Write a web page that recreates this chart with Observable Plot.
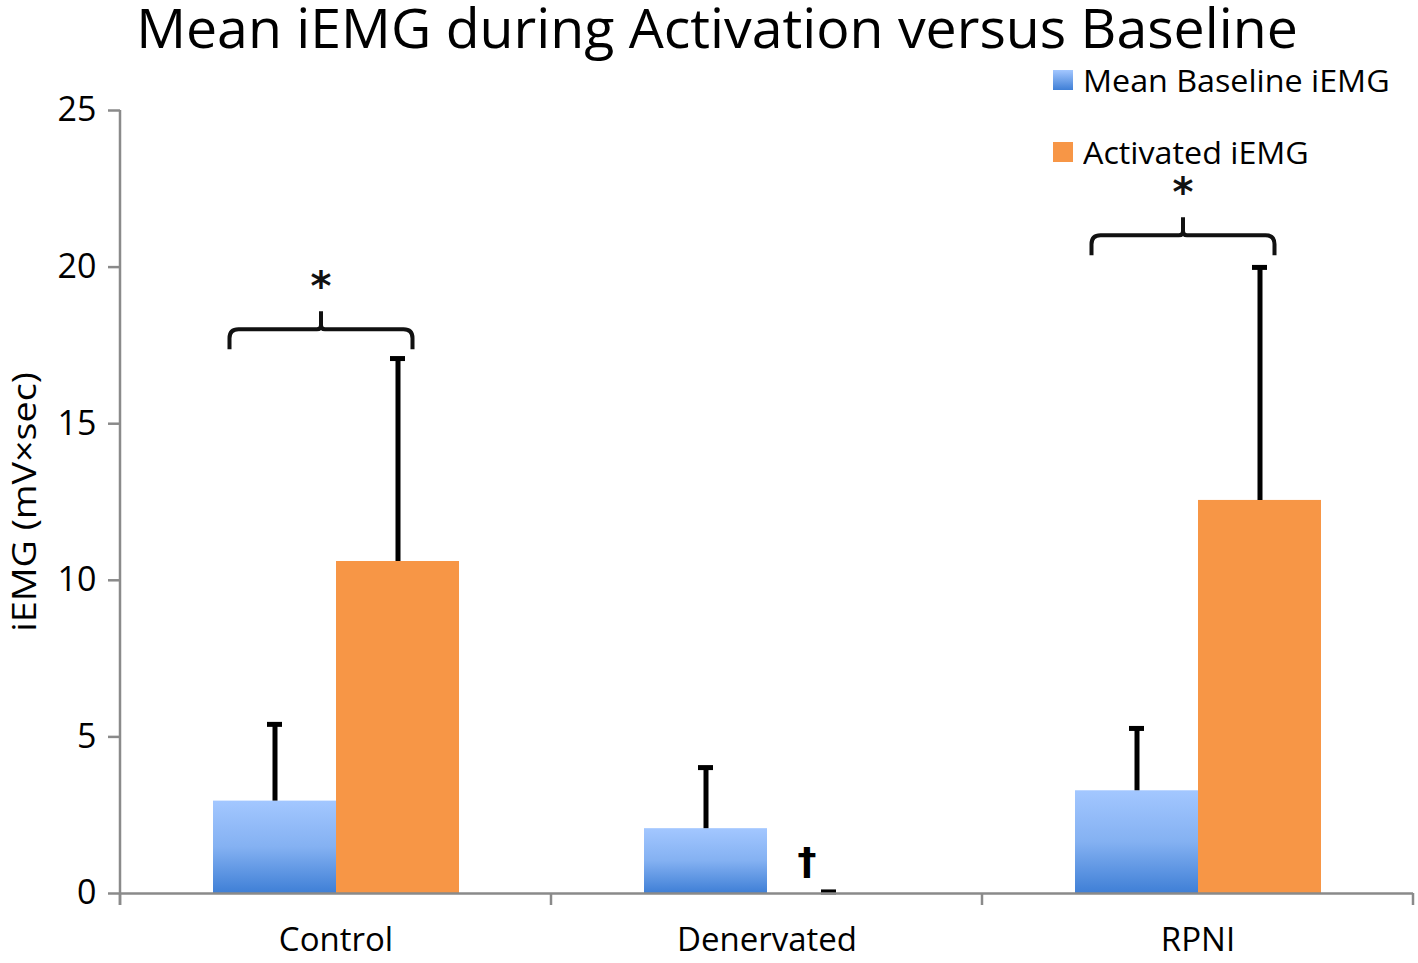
<!DOCTYPE html>
<html>
<head>
<meta charset="utf-8">
<script src="https://cdn.jsdelivr.net/npm/d3@7"></script>
<script src="https://cdn.jsdelivr.net/npm/@observablehq/plot@0.6"></script>
<style>
  html, body { margin: 0; padding: 0; background: #fff; }
  #wrap { position: relative; width: 1418px; height: 963px; overflow: hidden; font-family: "Open Sans", sans-serif; color: #000; }
  #title { position: absolute; top: 2px; left: 8px; width: 1418px; text-align: center; white-space: nowrap; }
  #title span { display: inline-block; font-size: 52px; line-height: 50px; }
  #legend { position: absolute; left: 1053px; top: 58px; }
  .item { position: relative; height: 72px; white-space: nowrap; }
  .sw { position: absolute; left: 0; top: 12px; width: 20px; height: 20px; }
  .lab { position: absolute; left: 30px; top: 0px; font-size: 31px; line-height: 44px; transform-origin: 0 50%; }
  #ylabel { position: absolute; left: 23px; top: 502px; transform: translate(-50%, -50%) rotate(-90deg); white-space: nowrap; font-size: 32px; line-height: normal; }
  #chart { position: absolute; left: 0; top: 0; }
</style>
</head>
<body>
<svg width="0" height="0" style="position:absolute">
  <defs>
    <linearGradient id="blueGrad" x1="0" y1="0" x2="0" y2="1">
      <stop offset="0" stop-color="#a3c7ff"/>
      <stop offset="0.5" stop-color="#84b1f2"/>
      <stop offset="1" stop-color="#3f7fd6"/>
    </linearGradient>
  </defs>
</svg>
<div id="wrap">
  <div id="chart"></div>
  <div id="title"><span id="titleText">Mean iEMG during Activation versus Baseline</span></div>
  <div id="legend"></div>
  <div id="ylabel"><span id="ylabelText" style="display:inline-block">iEMG (mV×sec)</span></div>
</div>
<script>
// ---- data ----
const groups = ["Control", "Denervated", "RPNI"];
const series = ["Mean Baseline iEMG", "Activated iEMG"];
const baselineMean = [2.95, 2.07, 3.28];
const baselineErr = [2.45, 1.95, 1.99];
const activatedMean = [10.6, 0, 12.55];
const activatedErr = [6.48, 0.05, 7.44];
const yTicks = [0, 5, 10, 15, 20, 25];
const sigGroups = ["Control", "RPNI"];
const sigBraceY = [18, 21];
const daggerGroups = ["Denervated"];
const daggerY = [1.0];
const seriesFill = ["url(#blueGrad)", "#F79646"];

const rows = groups.flatMap((g, i) => [
  {group: g, series: series[0], value: baselineMean[i], err: baselineErr[i]},
  {group: g, series: series[1], value: activatedMean[i], err: activatedErr[i]}
]);
const sig = sigGroups.map((g, i) => ({group: g, y: sigBraceY[i]}));
const daggers = daggerGroups.map((g, i) => ({group: g, y: daggerY[i]}));

function braceRender(index, scales, values, dimensions, context) {
  const g = d3.create("svg:g");
  const bw = scales.x.bandwidth();
  for (const i of index) {
    const d = sig[i];
    const xl = scales.x(series[0]) + bw / 2 - 45;
    const xr = scales.x(series[1]) + bw / 2 + 15;
    const xc = (xl + xr) / 2;
    const yh = scales.y(d.y);
    const r = 9, drop = 20, spike = 18, s = 4;
    const p = d3.path();
    p.moveTo(xl, yh + drop);
    p.lineTo(xl, yh + r);
    p.quadraticCurveTo(xl, yh, xl + r, yh);
    p.lineTo(xc - s, yh);
    p.quadraticCurveTo(xc, yh, xc, yh - s);
    p.lineTo(xc, yh - spike);
    p.moveTo(xc, yh - s);
    p.quadraticCurveTo(xc, yh, xc + s, yh);
    p.lineTo(xr - r, yh);
    p.quadraticCurveTo(xr, yh, xr, yh + r);
    p.lineTo(xr, yh + drop);
    g.append("path").attr("d", p.toString()).attr("fill", "none")
      .attr("stroke", "#111").attr("stroke-width", 4).attr("stroke-linejoin", "round");
    g.append("text").attr("x", xc).attr("y", yh - 54).attr("dy", "0.62em")
      .attr("text-anchor", "middle").attr("font-size", 40).attr("font-weight", "bold")
      .attr("font-family", "DejaVu Sans").attr("fill", "#111").text("*");
  }
  return g.node();
}

const plot = Plot.plot({
  width: 1418,
  height: 963,
  marginLeft: 120,
  marginRight: 5,
  marginTop: 110,
  marginBottom: 70,
  style: {fontFamily: "Open Sans, sans-serif", color: "#000", background: "transparent", overflow: "visible"},
  fx: {domain: groups, padding: 0, label: null},
  x: {domain: series, paddingInner: 0, paddingOuter: 0.752, axis: null},
  y: {domain: [0, 25]},
  marks: [
    Plot.barY(rows.filter(d => d.series === series[0]), {fx: "group", x: "series", y: "value", fill: seriesFill[0]}),
    Plot.barY(rows.filter(d => d.series === series[1]), {fx: "group", x: "series", y: "value", fill: seriesFill[1]}),
    Plot.ruleX(rows, {fx: "group", x: "series", y1: "value", y2: d => d.value + d.err, stroke: "#000", strokeWidth: 5}),
    Plot.tickY(rows, {fx: "group", x: "series", y: d => d.value + d.err, stroke: "#000", strokeWidth: 5, insetLeft: 54, insetRight: 54}),
    Plot.ruleY([0], {stroke: "#8a8a8a", strokeWidth: 2.5}),
    Plot.axisY({ticks: yTicks, tickSize: 12, tickPadding: 12, stroke: "#8a8a8a", strokeWidth: 2.5, fontSize: 34, label: null}),
    Plot.axisFx({anchor: "bottom", tickSize: 0, tickPadding: 34, fontSize: 33, label: null}),
    Plot.text(sig, {fx: "group", x: () => series[1], y: "y", text: () => "*", render: braceRender}),
    Plot.text(daggers, {fx: "group", x: () => series[1], y: "y", text: () => "†", dx: -22, fontSize: 38, fontWeight: "bold", fontFamily: "DejaVu Sans"})
  ]
});
document.getElementById("chart").appendChild(plot);

// axis line and category boundary ticks from the library's scales
const fxS = plot.scale("fx");
const yS = plot.scale("y");
const left = fxS.apply(groups[0]);
const bounds = groups.map(g => fxS.apply(g)).concat([fxS.apply(groups[groups.length - 1]) + fxS.bandwidth]);
const y0 = yS.apply(0), yTop = yS.apply(yTicks[yTicks.length - 1]);
const ax = d3.select(plot).append("g").attr("stroke", "#8a8a8a").attr("stroke-width", 2.5);
ax.append("line").attr("x1", left).attr("x2", left).attr("y1", yTop).attr("y2", y0 + 12);
bounds.forEach(b => ax.append("line").attr("x1", b).attr("x2", b).attr("y1", y0).attr("y2", y0 + 12));

// legend
const legend = d3.select("#legend");
series.forEach((s, i) => {
  const it = legend.append("div").attr("class", "item");
  it.append("div").attr("class", "sw").style("background", i === 0 ? "linear-gradient(#a3c7ff, #3f7fd6)" : seriesFill[1]);
  it.append("div").attr("class", "lab").text(s);
});
// stretch legend labels to reference width
const labs = document.querySelectorAll(".lab");
const lw = labs[0].offsetWidth;
const sx = 307 / lw;
labs.forEach(l => l.style.transform = `scaleX(${sx})`);

// stretch y label along its length (offsetWidth ignores the rotation)
const yl = document.getElementById("ylabelText");
const ylw = yl.offsetWidth;
yl.style.transform = `scaleX(${260 / ylw})`;

// fit title width
const tt = document.getElementById("titleText");
const w = tt.offsetWidth;
tt.style.fontSize = (52 * 1162 / w) + "px";
</script>
</body>
</html>
